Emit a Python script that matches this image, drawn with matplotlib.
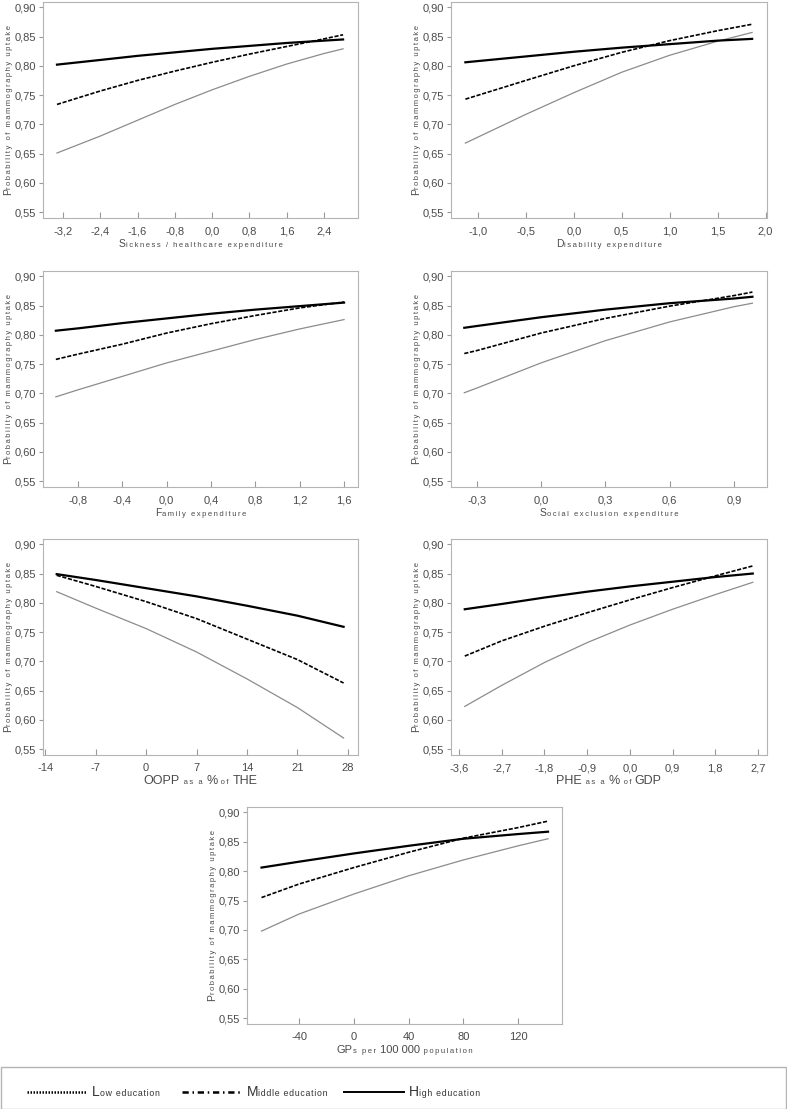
import matplotlib
matplotlib.use("Agg")
import matplotlib.pyplot as plt
from matplotlib.transforms import IdentityTransform
from matplotlib.lines import Line2D
from matplotlib.patches import Rectangle
from matplotlib.ticker import FixedLocator, FuncFormatter

plt.rcParams['font.family'] = ['Liberation Sans', 'DejaVu Sans']

# ---- datos ----
# Sickness / healthcare expenditure
x_sick = [-3.33, -2.4, -1.6, -0.8, 0.0, 0.8, 1.6, 2.4, 2.81]
low_sick = [0.651, 0.680, 0.707, 0.734, 0.759, 0.782, 0.803, 0.821, 0.829]
mid_sick = [0.734, 0.757, 0.775, 0.791, 0.806, 0.820, 0.833, 0.846, 0.853]
high_sick = [0.802, 0.810, 0.817, 0.823, 0.829, 0.834, 0.839, 0.843, 0.845]
ticks_sick = [-3.2, -2.4, -1.6, -0.8, 0.0, 0.8, 1.6, 2.4]

# Disability expenditure
x_dis = [-1.13, -0.5, 0.0, 0.5, 1.0, 1.5, 1.86]
low_dis = [0.668, 0.717, 0.754, 0.789, 0.818, 0.842, 0.857]
mid_dis = [0.743, 0.775, 0.800, 0.823, 0.843, 0.860, 0.871]
high_dis = [0.806, 0.816, 0.824, 0.831, 0.837, 0.843, 0.846]
ticks_dis = [-1.0, -0.5, 0.0, 0.5, 1.0, 1.5, 2.0]

# Family expenditure
x_fam = [-1.0, -0.8, -0.4, 0.0, 0.4, 0.8, 1.2, 1.6]
low_fam = [0.694, 0.706, 0.729, 0.752, 0.772, 0.792, 0.810, 0.826]
mid_fam = [0.758, 0.767, 0.784, 0.803, 0.819, 0.833, 0.846, 0.856]
high_fam = [0.807, 0.811, 0.820, 0.828, 0.836, 0.843, 0.849, 0.855]
ticks_fam = [-0.8, -0.4, 0.0, 0.4, 0.8, 1.2, 1.6]

# Social exclusion expenditure
x_soc = [-0.358, -0.3, 0.0, 0.3, 0.6, 0.9, 0.986]
low_soc = [0.701, 0.709, 0.752, 0.790, 0.822, 0.848, 0.854]
mid_soc = [0.768, 0.773, 0.803, 0.828, 0.849, 0.867, 0.873]
high_soc = [0.812, 0.815, 0.830, 0.843, 0.854, 0.862, 0.865]
ticks_soc = [-0.3, 0.0, 0.3, 0.6, 0.9]

# OOPP as a % of THE
x_oopp = [-12.4, -7, 0, 7, 14, 21, 27.4]
low_oopp = [0.819, 0.791, 0.756, 0.716, 0.670, 0.621, 0.569]
mid_oopp = [0.847, 0.828, 0.802, 0.773, 0.738, 0.703, 0.663]
high_oopp = [0.849, 0.839, 0.825, 0.811, 0.795, 0.778, 0.759]
ticks_oopp = [-14, -7, 0, 7, 14, 21, 28]

# PHE as a % of GDP
x_phe = [-3.48, -2.7, -1.8, -0.9, 0.0, 0.9, 1.8, 2.59]
low_phe = [0.623, 0.659, 0.698, 0.732, 0.762, 0.789, 0.814, 0.835]
mid_phe = [0.709, 0.735, 0.760, 0.783, 0.805, 0.826, 0.846, 0.863]
high_phe = [0.789, 0.798, 0.809, 0.819, 0.828, 0.836, 0.844, 0.850]
ticks_phe = [-3.6, -2.7, -1.8, -0.9, 0.0, 0.9, 1.8, 2.7]

# GPs per 100 000 population
x_gp = [-67.4, -40, 0, 40, 80, 120, 141.8]
low_gp = [0.698, 0.727, 0.761, 0.792, 0.819, 0.843, 0.855]
mid_gp = [0.755, 0.778, 0.806, 0.832, 0.856, 0.874, 0.885]
high_gp = [0.806, 0.816, 0.830, 0.843, 0.855, 0.863, 0.867]
ticks_gp = [-40, 0, 40, 80, 120]

y_ticks = [0.55, 0.60, 0.65, 0.70, 0.75, 0.80, 0.85, 0.90]
leyenda = ["Low education", "Middle education", "High education"]

W, H = 787, 1109
fig = plt.figure(figsize=(W / 100, H / 100), dpi=100)
renderer = fig.canvas.get_renderer()

GRIS_TXT = '#4a4a4a'
GRIS_EJE = '#b4b4b4'


def esp(s, sep='\u2009'):
    # letras separadas, como en el original
    return sep.join(s)


def texto_mixto(x, y, partes, rot=0, centrado=True, color=GRIS_TXT):
    objs = []
    for s, fs in partes:
        t = fig.text(0, 0, s, fontsize=fs, color=color, rotation=rot,
                     rotation_mode='anchor', ha='left', va='baseline',
                     transform=IdentityTransform())
        objs.append(t)
    largos = []
    for t in objs:
        bb = t.get_window_extent(renderer)
        largos.append(bb.height if rot else bb.width)
    pos = -sum(largos) / 2 if centrado else 0
    for t, L in zip(objs, largos):
        if rot:
            t.set_position((x, y + pos))
        else:
            t.set_position((x + pos, y))
        pos += L


G, C = 7.5, 5.5
paneles = [
    (x_sick, low_sick, mid_sick, high_sick, ticks_sick, (-3.63, 3.13), (43, 2, 358, 218),
     [("S", G), (esp("ickness / healthcare expenditure"), C)]),
    (x_dis, low_dis, mid_dis, high_dis, ticks_dis, (-1.28, 2.015), (451, 2, 767, 218),
     [("D", G), (esp("isability expenditure"), C)]),
    (x_fam, low_fam, mid_fam, high_fam, ticks_fam, (-1.116, 1.726), (43, 271, 358, 487),
     [("F", G), (esp("amily expenditure"), C)]),
    (x_soc, low_soc, mid_soc, high_soc, ticks_soc, (-0.42, 1.054), (451, 271, 767, 487),
     [("S", G), (esp("ocial exclusion expenditure"), C)]),
    (x_oopp, low_oopp, mid_oopp, high_oopp, ticks_oopp, (-14.3, 29.4), (43, 539, 358, 755),
     [("OOPP", 9), (esp(" as a "), C), ("%", 9), (esp(" of "), C), ("THE", 9)]),
    (x_phe, low_phe, mid_phe, high_phe, ticks_phe, (-3.77, 2.89), (451, 539, 767, 755),
     [("PHE", 9), (esp(" as a "), C), ("%", 9), (esp(" of "), C), ("GDP", 9)]),
    (x_gp, low_gp, mid_gp, high_gp, ticks_gp, (-78, 152), (247, 807, 562, 1024),
     [("GP", 8), (esp("s per "), C), ("100 000", 8), (esp(" population"), C)]),
]

for x, low, mid, high, ticks, xlim, caja, etiqueta in paneles:
    l, t, r, b = caja
    ax = fig.add_axes([l / W, 1 - b / H, (r - l) / W, (b - t) / H])
    ax.plot(x, low, color='#8c8c8c', lw=0.9)
    ax.plot(x, mid, color='black', lw=1.2, ls=(0, (2.5, 1)))
    ax.plot(x, high, color='black', lw=1.6)
    ax.set_xlim(*xlim)
    ax.set_ylim(0.540, 0.909)
    ax.xaxis.set_major_locator(FixedLocator(ticks))
    entero = all(float(v).is_integer() for v in ticks)
    if entero:
        ax.xaxis.set_major_formatter(FuncFormatter(lambda v, p: f"{v:.0f}"))
    else:
        ax.xaxis.set_major_formatter(FuncFormatter(lambda v, p: f"{v:.1f}".replace('.', ',')))
    ax.yaxis.set_major_locator(FixedLocator(y_ticks))
    ax.yaxis.set_major_formatter(FuncFormatter(lambda v, p: f"{v:.2f}".replace('.', ',')))
    for s in ax.spines.values():
        s.set_color(GRIS_EJE)
        s.set_linewidth(0.8)
    ax.tick_params(axis='x', direction='in', length=4, width=0.8, color='#999999',
                   labelsize=8, labelcolor=GRIS_TXT, pad=6)
    ax.tick_params(axis='y', direction='out', length=3, width=0.8, color='#999999',
                   labelsize=8, labelcolor=GRIS_TXT, pad=2)
    # etiquetas de ejes
    texto_mixto((l + r) / 2, H - (b + 29), etiqueta)
    texto_mixto(l - 32, H - (t + b) / 2,
                [("P", G), (esp("robability of mammography uptake"), C)], rot=90)

# ---- leyenda ----
fig.patches.append(Rectangle((0.5, 0.5), W - 1.5, H - 1067 - 0.5, fill=False,
                             edgecolor=GRIS_EJE, lw=1, transform=IdentityTransform()))
estilos = [dict(ls=(0, (0.6, 0.6)), lw=1.8), dict(ls=(0, (2.5, 1.5, 0.6, 1.5)), lw=1.8),
           dict(ls='-', lw=1.4)]
x_lin = [27, 182, 344]
for nombre, est, x0 in zip(leyenda, estilos, x_lin):
    fig.lines.append(Line2D([x0, x0 + 60], [17, 17], color='black',
                            transform=IdentityTransform(), **est))
    texto_mixto(x0 + 65, 13, [(nombre[0], 10), (esp(nombre[1:], '\u200a'), 6.3)],
                centrado=False, color='#333333')

fig.savefig("out.png", dpi=100)
